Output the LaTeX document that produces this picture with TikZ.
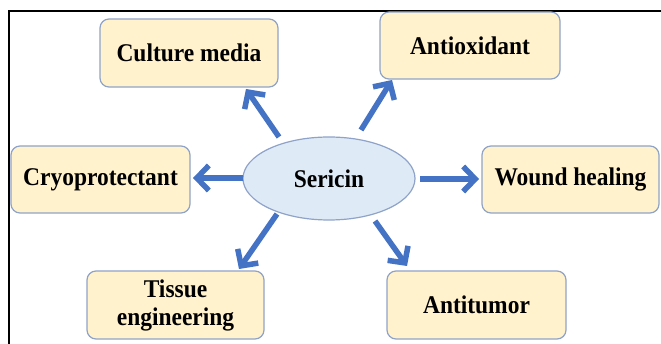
\documentclass[tikz,border=0pt]{standalone}
\usepackage{fontspec}
\setmainfont{Liberation Serif}
\newfontfamily\lblfont[FakeStretch=0.92]{Liberation Serif}
\usetikzlibrary{arrows.meta,shapes.geometric}
\definecolor{boxfill}{RGB}{255,242,204}
\definecolor{boxline}{RGB}{143,163,201}
\definecolor{ellfill}{RGB}{222,234,246}
\definecolor{arrblue}{RGB}{68,114,196}
\begin{document}
\begin{tikzpicture}[x=1pt,y=-1pt,
  lbl/.style={font=\lblfont\fontsize{25.5}{28}\selectfont\bfseries, align=center, text=black},
  boxnode/.style={draw=boxline, line width=1.2pt, fill=boxfill, rounded corners=9pt, inner sep=0pt},
  arr/.style={draw=arrblue, line width=5.5pt, -{Straight Barb[length=12pt,width=25pt,line width=5.5pt]}}]
\useasboundingbox (0,0) rectangle (661,344);
\fill[white] (0,0) rectangle (661,344);
% frame
\draw[line width=2.6pt, black] (9,344) -- (9,11) -- (661,11);
% boxes
\node[boxnode, minimum width=178pt, minimum height=68pt] (cm) at (189,53) {};
\node[lbl] at (cm) {Culture media};
\node[boxnode, minimum width=180pt, minimum height=67pt] (ao) at (470,45.5) {};
\node[lbl] at (ao) {Antioxidant};
\node[boxnode, minimum width=179pt, minimum height=67pt] (cp) at (100.5,179.5) {};
\node[lbl] at (cp) {Cryoprotectant};
\node[boxnode, minimum width=177pt, minimum height=67pt] (wh) at (570.5,179.5) {};
\node[lbl] at (wh) {Wound healing};
\node[boxnode, minimum width=177pt, minimum height=68pt] (te) at (175.5,305) {};
\node[lbl] at (te) {Tissue\\engineering};
\node[boxnode, minimum width=179pt, minimum height=68pt] (at) at (476.5,305) {};
\node[lbl] at (at) {Antitumor};
% ellipse
\node[ellipse, draw=boxline, line width=1.2pt, fill=ellfill, minimum width=172pt, minimum height=83pt, inner sep=0pt] (s) at (329,178.5) {};
\node[lbl] at (s) {Sericin};
% arrow end points
\coordinate (t1) at (279,137); \coordinate (h1) at (246,89);
\coordinate (t2) at (361,130); \coordinate (h2) at (392,80);
\coordinate (t3) at (420,179); \coordinate (h3) at (479,179);
\coordinate (t4) at (243,178); \coordinate (h4) at (193,178);
\coordinate (t5) at (277,214); \coordinate (h5) at (239,269);
\coordinate (t6) at (375,221); \coordinate (h6) at (407,266);
\draw[arr] (t1) -- (h1);
\draw[arr] (t2) -- (h2);
\draw[arr] (t3) -- (h3);
\draw[arr] (t4) -- (h4);
\draw[arr] (t5) -- (h5);
\draw[arr] (t6) -- (h6);
\end{tikzpicture}
\end{document}
